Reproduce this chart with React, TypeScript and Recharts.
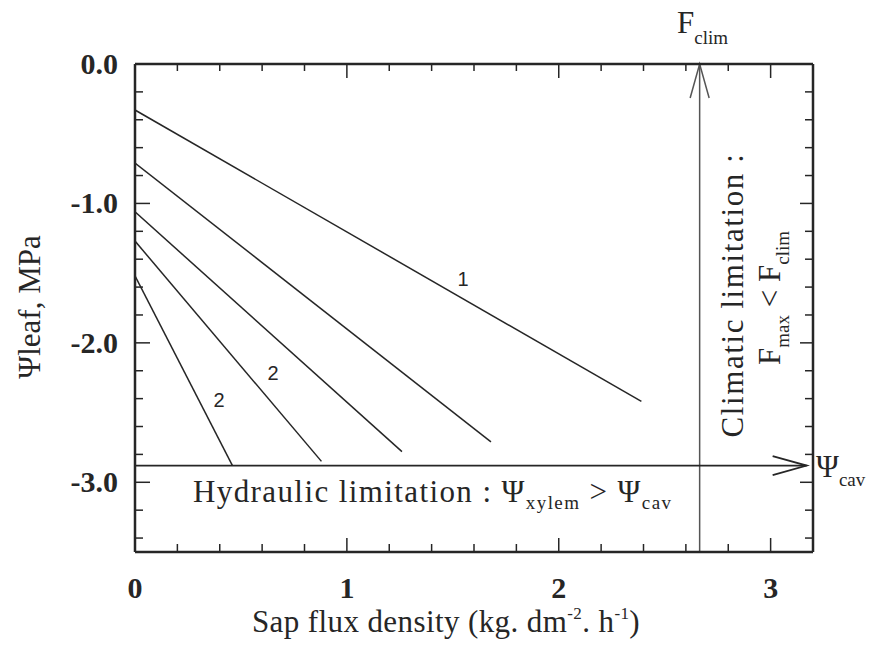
import { LineChart, Line, XAxis, YAxis, ReferenceLine } from "recharts";

// sap flux density axis (kg dm-2 h-1), minor ticks every 0.2
const X_TICKS = [0, 0.2, 0.4, 0.6, 0.8, 1, 1.2, 1.4, 1.6, 1.8, 2, 2.2, 2.4, 2.6, 2.8, 3, 3.2];
// leaf water potential axis (MPa)
const Y_TICKS = [0, -0.2, -0.4, -0.6, -0.8, -1, -1.2, -1.4, -1.6, -1.8, -2, -2.2, -2.4, -2.6, -2.8, -3, -3.2, -3.4];

// Ψleaf vs flux, one straight line per tree
const CURVE_1 = [{ x: 0, y: -0.33 }, { x: 2.39, y: -2.42 }];
const CURVE_2 = [{ x: 0, y: -0.71 }, { x: 1.68, y: -2.71 }];
const CURVE_3 = [{ x: 0, y: -1.06 }, { x: 1.26, y: -2.78 }];
const CURVE_4 = [{ x: 0, y: -1.27 }, { x: 0.88, y: -2.85 }];
const CURVE_5 = [{ x: 0, y: -1.52 }, { x: 0.46, y: -2.88 }];
const CURVES = [CURVE_1, CURVE_2, CURVE_3, CURVE_4, CURVE_5];

// limits
const PSI_CAV = -2.88;
const PSI_CAV_END = 3.17;
const F_CLIM = 2.665;

const INK = "#262626";
const SERIF = "'Liberation Serif', 'Times New Roman', serif";
const SANS = "'Liberation Sans', Arial, sans-serif";

const isMajor = (v: number) => Math.abs(v - Math.round(v)) < 1e-6;

const BottomTick = (props: any) => {
  const { x, y, payload } = props;
  const v = payload.value;
  const major = isMajor(v);
  return (
    <g>
      <line x1={x} y1={y} x2={x} y2={y - (major ? 14 : 8)} stroke={INK} strokeWidth={1.5} />
      {major && (
        <text x={x} y={y + 46} textAnchor="middle" fontFamily={SERIF} fontWeight="bold" fontSize={30} fill={INK}>
          {Math.round(v)}
        </text>
      )}
    </g>
  );
};

const TopTick = (props: any) => {
  const { x, y, payload } = props;
  const major = isMajor(payload.value);
  return <line x1={x} y1={y} x2={x} y2={y + (major ? 14 : 7)} stroke={INK} strokeWidth={1.5} />;
};

const LeftTick = (props: any) => {
  const { x, y, payload } = props;
  const v = payload.value;
  const major = isMajor(v);
  return (
    <g>
      <line x1={x} y1={y} x2={x + (major ? 15 : 8)} y2={y} stroke={INK} strokeWidth={1.5} />
      {major && (
        <text x={x - 17} y={y + 10} textAnchor="end" fontFamily={SERIF} fontWeight="bold" fontSize={30} fill={INK}>
          {v.toFixed(1)}
        </text>
      )}
    </g>
  );
};

const RightTick = (props: any) => {
  const { x, y, payload } = props;
  const major = isMajor(payload.value);
  return <line x1={x} y1={y} x2={x - (major ? 13 : 8)} y2={y} stroke={INK} strokeWidth={1.5} />;
};

// reference line with an open arrow head at its second end
const ArrowLine = (props: any) => {
  const { x1, y1, x2, y2, stroke, strokeWidth } = props;
  const len = Math.hypot(x2 - x1, y2 - y1) || 1;
  const ux = (x2 - x1) / len;
  const uy = (y2 - y1) / len;
  const back = 34;
  const half = 9.5;
  const bx = x2 - ux * back;
  const by = y2 - uy * back;
  return (
    <g stroke={stroke} strokeWidth={strokeWidth} fill="none">
      <line x1={x1} y1={y1} x2={x2} y2={y2} />
      <polyline points={`${bx - uy * half},${by + ux * half} ${x2},${y2} ${bx + uy * half},${by - ux * half}`} />
    </g>
  );
};

const Annotations = () => (
  <g fontFamily={SERIF} fill={INK} style={{ whiteSpace: "pre" }}>
    <text x={40} y={307} fontSize={31} textAnchor="middle" transform="rotate(-90 40 307)">
      Ψleaf, MPa
    </text>
    <text x={446} y={632} fontSize={31} letterSpacing={0.4} textAnchor="middle">
      Sap flux density (kg. dm<tspan fontSize={17} dy={-13}>-2</tspan>
      <tspan dy={13}>. h</tspan>
      <tspan fontSize={17} dy={-13}>-1</tspan>
      <tspan dy={13}>)</tspan>
    </text>
    <text x={193} y={502} fontSize={31} letterSpacing={1.4}>
      Hydraulic limitation : Ψ<tspan fontSize={19} dy={7}>xylem</tspan>
      <tspan dy={-7}> &gt; Ψ</tspan>
      <tspan fontSize={19} dy={7}>cav</tspan>
    </text>
    <text x={677} y={33} fontSize={31}>
      F<tspan fontSize={19} dy={11}>clim</tspan>
    </text>
    <text x={816} y={477} fontSize={31}>
      Ψ<tspan fontSize={19} dy={9}>cav</tspan>
    </text>
    <text x={743} y={295} fontSize={31} letterSpacing={1.6} textAnchor="middle" transform="rotate(-90 743 295)">
      Climatic limitation :
    </text>
    <text x={780} y={298} fontSize={31} textAnchor="middle" transform="rotate(-90 780 298)">
      F<tspan fontSize={19} dy={9}>max</tspan>
      <tspan dy={-9}> &lt; F</tspan>
      <tspan fontSize={19} dy={9}>clim</tspan>
    </text>
    <g fontFamily={SANS} fontSize={20}>
      <text x={463} y={286} textAnchor="middle">1</text>
      <text x={273} y={380} textAnchor="middle">2</text>
      <text x={219} y={407} textAnchor="middle">2</text>
    </g>
  </g>
);

export default function App() {
  return (
    <div style={{ position: "absolute", left: 0, top: 0, background: "#fff" }}>
      <LineChart width={880} height={653} margin={{ top: 0, right: 0, bottom: 0, left: 0 }}>
        <XAxis
          xAxisId="bottom"
          dataKey="x"
          type="number"
          domain={[0, 3.2]}
          allowDataOverflow
          ticks={X_TICKS}
          interval={0}
          height={101}
          tickSize={0}
          tickMargin={0}
          tick={<BottomTick />}
          axisLine={{ stroke: INK, strokeWidth: 2.5 }}
        />
        <XAxis
          xAxisId="top"
          orientation="top"
          dataKey="x"
          type="number"
          domain={[0, 3.2]}
          allowDataOverflow
          ticks={X_TICKS}
          interval={0}
          height={64}
          tickSize={0}
          tickMargin={0}
          tick={<TopTick />}
          axisLine={{ stroke: INK, strokeWidth: 2.5 }}
        />
        <YAxis
          yAxisId="left"
          type="number"
          domain={[-3.5, 0]}
          allowDataOverflow
          ticks={Y_TICKS}
          interval={0}
          width={135}
          tickSize={0}
          tickMargin={0}
          tick={<LeftTick />}
          axisLine={{ stroke: INK, strokeWidth: 2.5 }}
        />
        <YAxis
          yAxisId="right"
          orientation="right"
          type="number"
          domain={[-3.5, 0]}
          allowDataOverflow
          ticks={Y_TICKS}
          interval={0}
          width={67}
          tickSize={0}
          tickMargin={0}
          tick={<RightTick />}
          axisLine={{ stroke: INK, strokeWidth: 2.5 }}
        />
        <ReferenceLine
          xAxisId="bottom"
          yAxisId="left"
          segment={[{ x: F_CLIM, y: -3.5 }, { x: F_CLIM, y: 0 }]}
          stroke="#555"
          strokeWidth={1.5}
          shape={<ArrowLine />}
        />
        <ReferenceLine
          xAxisId="bottom"
          yAxisId="left"
          segment={[{ x: 0, y: PSI_CAV }, { x: PSI_CAV_END, y: PSI_CAV }]}
          stroke={INK}
          strokeWidth={1.8}
          shape={<ArrowLine />}
        />
        {CURVES.map((c, i) => (
          <Line
            key={i}
            xAxisId="bottom"
            yAxisId="left"
            data={c}
            dataKey="y"
            type="linear"
            stroke={INK}
            strokeWidth={1.5}
            dot={false}
            isAnimationActive={false}
          />
        ))}
        <Annotations />
      </LineChart>
    </div>
  );
}
